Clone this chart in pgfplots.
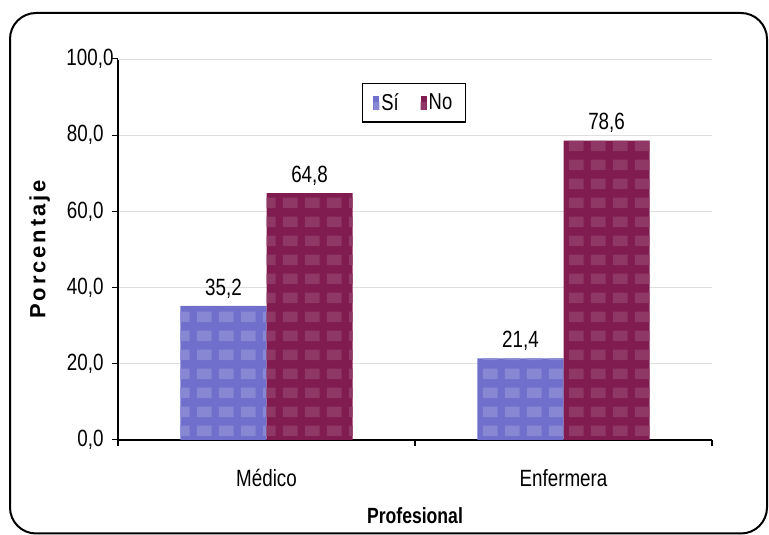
\documentclass[border=0pt]{standalone}
\usepackage{fontspec}
\setmainfont[FakeStretch=0.8]{Liberation Sans}
\newfontfamily\widefont[LetterSpace=13]{Liberation Sans}
\usepackage{pgfplots}
\pgfplotsset{compat=1.18}
\usetikzlibrary{patterns}
\definecolor{si}{RGB}{112,112,204}
\definecolor{no}{RGB}{128,28,80}
\pgfdeclarepatternformonly{tiles}{\pgfpointorigin}{\pgfpoint{21.5pt}{19pt}}{\pgfpoint{21.5pt}{19pt}}{%
  \pgfpathrectangle{\pgfpoint{3pt}{4pt}}{\pgfpoint{15pt}{11pt}}\pgfusepath{fill}}
\pgfkeys{/pgf/number format/.cd, fixed, fixed zerofill, precision=1, use comma, assume math mode=true}
\begin{document}
\begin{tikzpicture}[x=1pt,y=1pt]
\path[use as bounding box] (0,0) rectangle (769,535);
\draw[line width=2pt, rounded corners=26pt] (10,1.5) rectangle (767,522);
\begin{axis}[
  at={(118pt,95pt)}, anchor=south west,
  scale only axis, width=594pt, height=381pt,
  xmin=-0.5, xmax=1.5, ymin=0, ymax=100,
  axis x line=bottom, axis y line=left,
  axis line style={-, black, line width=1.2pt},
  ybar=0pt, bar width=0.29,
  ytick={0,20,...,80},
  yticklabel style={xshift=-5pt},
  extra y ticks={100},
  extra y tick style={yticklabel style={xshift=10pt}},
  ymajorgrids, grid style={gray!25, line width=0.8pt},
  ticklabel style={font=\fontsize{23.5}{25}\selectfont},
  y tick style={black, line width=1pt}, major tick length=6pt,
  tick align=outside,
  xtick={-0.5,0.5,1.5}, xticklabels={},
  x tick style={black, line width=1.2pt},
  extra x ticks={0,1}, extra x tick labels={Médico,Enfermera},
  extra x tick style={major tick length=0pt, xticklabel style={yshift=-26pt}},
  xlabel={\textbf{Profesional}},
  xlabel style={font=\fontsize{22}{24}\selectfont, yshift=-8pt},
  ylabel={\widefont\bfseries Porcentaje},
  ylabel style={font=\fontsize{22}{22}\selectfont, yshift=-2pt},
  nodes near coords,
  every node near coord/.append style={font=\fontsize{23.5}{25}\selectfont, yshift=4pt},
  legend style={at={(0.498,0.885)}, anchor=center, draw=black, line width=1.4pt, legend columns=2, font=\fontsize{23}{24}\selectfont, inner xsep=11pt, inner ysep=8pt, /tikz/every even column/.append style={column sep=20pt}},
  legend cell align=left,
  area legend,
]
\addplot[fill=si, draw=none, postaction={pattern=tiles, pattern color=si!84!white}, legend image code/.code={\fill[si] (0pt,-7pt) rectangle (6pt,7pt);}] coordinates {(0,35.2) (1,21.4)};
\addplot[fill=no, draw=none, postaction={pattern=tiles, pattern color=no!88!white}, legend image code/.code={\fill[no] (0pt,-7pt) rectangle (6pt,7pt);}] coordinates {(0,64.8) (1,78.6)};
\legend{Sí,No}
\end{axis}
\end{tikzpicture}
\end{document}
